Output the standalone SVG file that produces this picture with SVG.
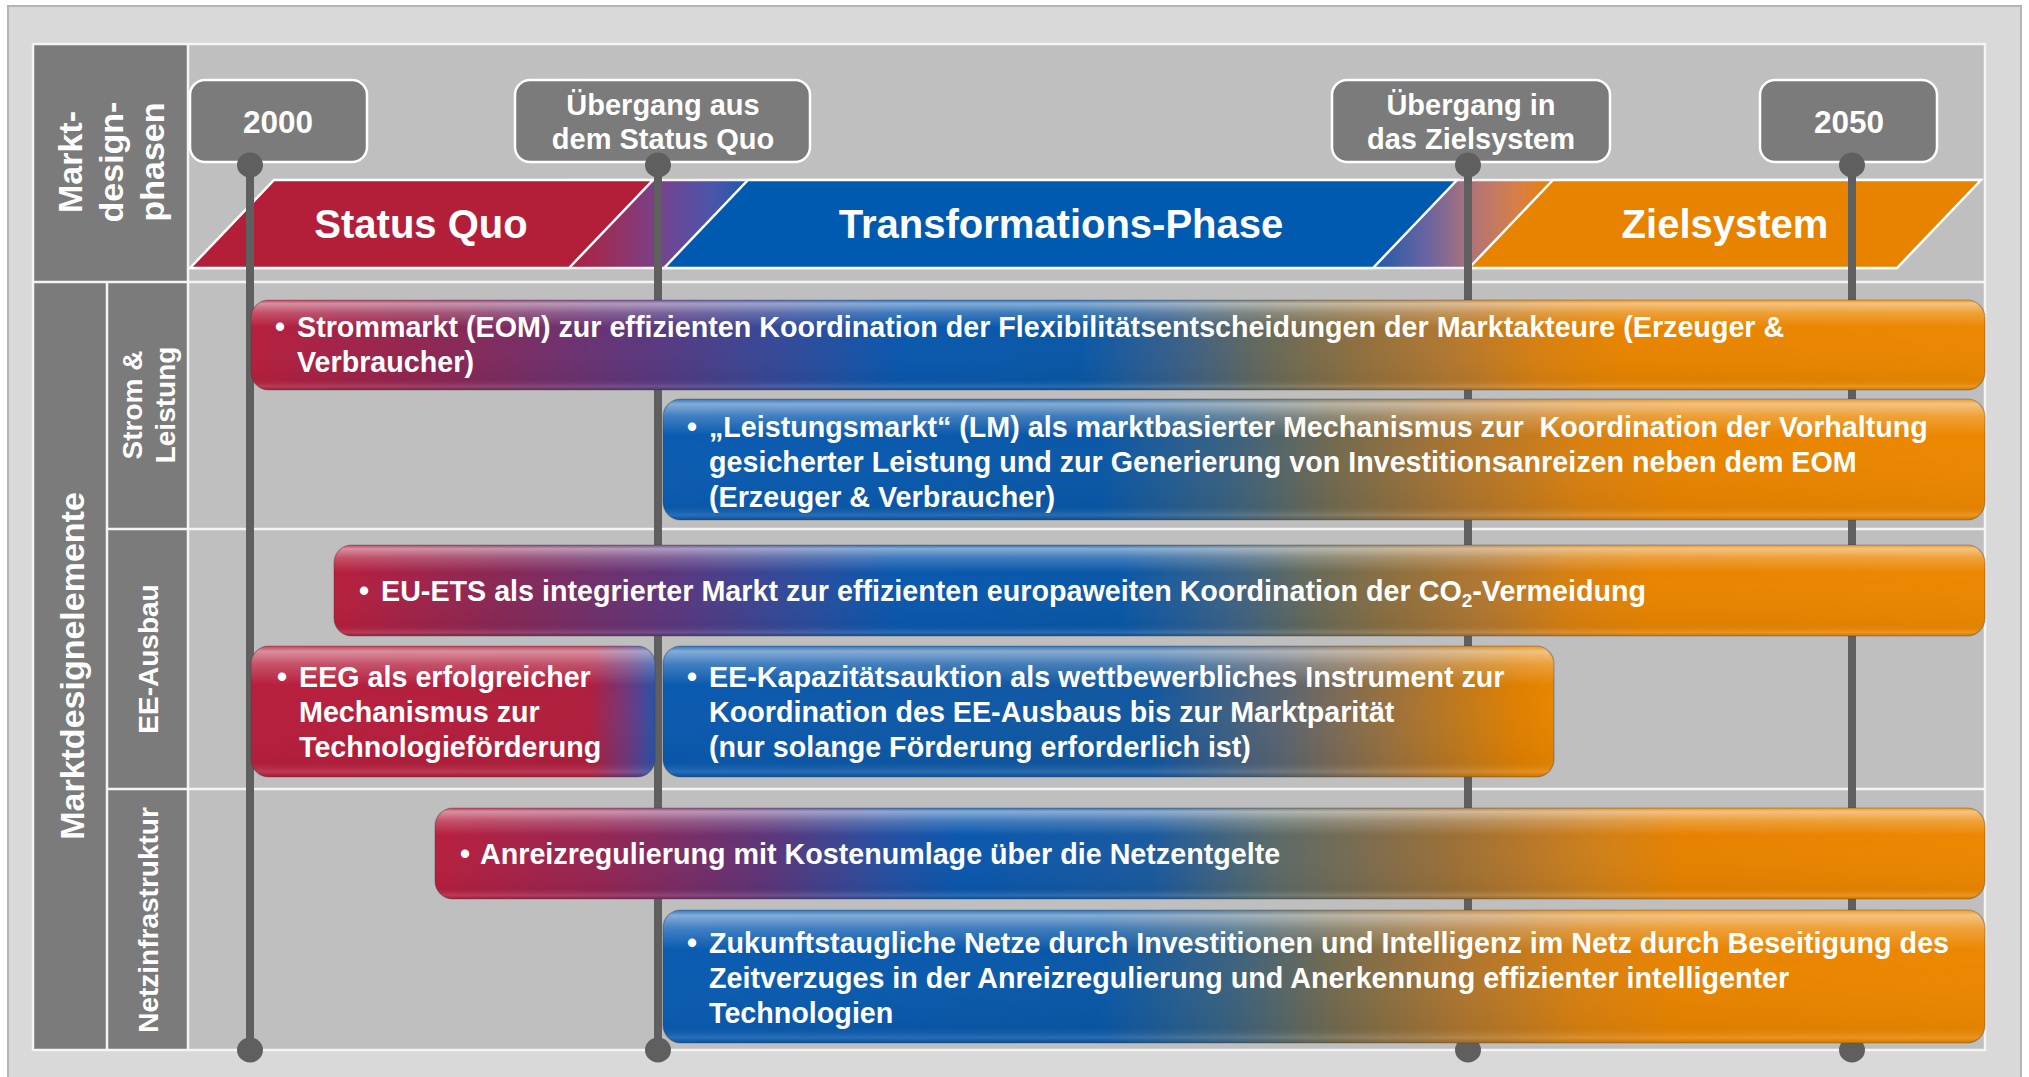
<svg xmlns="http://www.w3.org/2000/svg" width="2029" height="1077" viewBox="0 0 2029 1077">
<style>
.grid{stroke:#f4f4f4;stroke-width:2.5;fill:none}
.hdr{fill:#7a7b7a}
.lbl{font-family:'Liberation Sans',Arial,sans-serif;font-weight:bold;fill:#fff}
.ph{font-size:40px;text-anchor:middle}
.ms{font-size:29px;text-anchor:middle}
.yr{font-size:31.5px;text-anchor:middle}
.rot34{font-size:34px;text-anchor:middle}
.rot28{font-size:28px;text-anchor:middle}
.bt{font-size:28.7px}
.bul{font-size:28.7px;text-anchor:middle}
.box{fill:#7a7b7a;stroke:#fff;stroke-width:2.5}
.phase{stroke:#fff;stroke-width:2.5}
.pin{stroke:#5e5f5e;stroke-width:8;fill:none}
.dot{fill:#5e5f5e}
.gl{fill:url(#gloss)}
.edge{fill:none;stroke:rgba(60,60,60,0.35);stroke-width:1.2}
</style>
<defs>
<linearGradient id="gloss" x1="0" y1="0" x2="0" y2="1">
<stop offset="0" stop-color="#fff" stop-opacity="0.15"/>
<stop offset="0.04" stop-color="#fff" stop-opacity="0.5"/>
<stop offset="0.14" stop-color="#fff" stop-opacity="0.22"/>
<stop offset="0.3" stop-color="#fff" stop-opacity="0"/>
<stop offset="0.88" stop-color="#000" stop-opacity="0.04"/>
<stop offset="0.96" stop-color="#fff" stop-opacity="0.12"/>
<stop offset="1" stop-color="#000" stop-opacity="0.1"/>
</linearGradient>
<linearGradient id="pc1" gradientUnits="userSpaceOnUse" x1="569" y1="0" x2="748" y2="0">
<stop offset="0" stop-color="#b01f3c"/>
<stop offset="0.3" stop-color="#903468"/>
<stop offset="0.55" stop-color="#704594"/>
<stop offset="0.8" stop-color="#4a55aa"/>
<stop offset="1" stop-color="#1a5ab0"/>
</linearGradient>
<linearGradient id="pc2" gradientUnits="userSpaceOnUse" x1="1373" y1="0" x2="1553" y2="0">
<stop offset="0" stop-color="#1c5aac"/>
<stop offset="0.3" stop-color="#6a64a0"/>
<stop offset="0.55" stop-color="#b07478"/>
<stop offset="0.8" stop-color="#d87e48"/>
<stop offset="1" stop-color="#e88200"/>
</linearGradient>
<linearGradient id="g1" gradientUnits="userSpaceOnUse" x1="0" y1="0" x2="2000" y2="0">
<stop offset="0.125" stop-color="#b81f3d"/>
<stop offset="0.225" stop-color="#8a2856"/>
<stop offset="0.325" stop-color="#5a3880"/>
<stop offset="0.4" stop-color="#2e4c9c"/>
<stop offset="0.45" stop-color="#0a58ae"/>
<stop offset="0.54" stop-color="#0a58a8"/>
<stop offset="0.59" stop-color="#3a6088"/>
<stop offset="0.635" stop-color="#686a58"/>
<stop offset="0.68" stop-color="#90703e"/>
<stop offset="0.725" stop-color="#b27830"/>
<stop offset="0.77" stop-color="#d88010"/>
<stop offset="0.81" stop-color="#e88400"/>
<stop offset="1" stop-color="#ec8800"/>
</linearGradient>
<linearGradient id="g3" gradientUnits="userSpaceOnUse" x1="0" y1="0" x2="2000" y2="0">
<stop offset="0.167" stop-color="#b81f3d"/>
<stop offset="0.25" stop-color="#8a2856"/>
<stop offset="0.34" stop-color="#5a3880"/>
<stop offset="0.4" stop-color="#2e4c9c"/>
<stop offset="0.45" stop-color="#0a58ae"/>
<stop offset="0.56" stop-color="#0a58a8"/>
<stop offset="0.615" stop-color="#3a6288"/>
<stop offset="0.657" stop-color="#686a58"/>
<stop offset="0.7" stop-color="#90703e"/>
<stop offset="0.7435" stop-color="#b27830"/>
<stop offset="0.785" stop-color="#d88010"/>
<stop offset="0.825" stop-color="#e88400"/>
<stop offset="1" stop-color="#ec8800"/>
</linearGradient>
<linearGradient id="g6" gradientUnits="userSpaceOnUse" x1="0" y1="0" x2="2000" y2="0">
<stop offset="0.2175" stop-color="#b81f3d"/>
<stop offset="0.3" stop-color="#962654"/>
<stop offset="0.38" stop-color="#603478"/>
<stop offset="0.44" stop-color="#2a4ea0"/>
<stop offset="0.48" stop-color="#0a58ae"/>
<stop offset="0.575" stop-color="#1a5aa0"/>
<stop offset="0.635" stop-color="#5a6a6a"/>
<stop offset="0.68" stop-color="#7a6c50"/>
<stop offset="0.725" stop-color="#9a7038"/>
<stop offset="0.765" stop-color="#b87828"/>
<stop offset="0.8" stop-color="#d08018"/>
<stop offset="0.84" stop-color="#e68200"/>
<stop offset="1" stop-color="#ec8800"/>
</linearGradient>
<linearGradient id="g2" gradientUnits="userSpaceOnUse" x1="0" y1="0" x2="2000" y2="0">
<stop offset="0.3315" stop-color="#0a5cb2"/>
<stop offset="0.55" stop-color="#0a58a8"/>
<stop offset="0.615" stop-color="#3a6280"/>
<stop offset="0.665" stop-color="#706a50"/>
<stop offset="0.725" stop-color="#a87432"/>
<stop offset="0.79" stop-color="#d88010"/>
<stop offset="0.84" stop-color="#e88400"/>
<stop offset="1" stop-color="#ec8800"/>
</linearGradient>
<linearGradient id="g5" gradientUnits="userSpaceOnUse" x1="0" y1="0" x2="2000" y2="0">
<stop offset="0.3315" stop-color="#0a5ab0"/>
<stop offset="0.575" stop-color="#1258a0"/>
<stop offset="0.64" stop-color="#5a6470"/>
<stop offset="0.7" stop-color="#a07238"/>
<stop offset="0.76" stop-color="#e08000"/>
<stop offset="0.777" stop-color="#e88600"/>
</linearGradient>
<linearGradient id="g4" gradientUnits="userSpaceOnUse" x1="0" y1="0" x2="2000" y2="0">
<stop offset="0.1255" stop-color="#b81f3d"/>
<stop offset="0.295" stop-color="#b01f3e"/>
<stop offset="0.315" stop-color="#6a3a80"/>
<stop offset="0.3275" stop-color="#2a52a8"/>
</linearGradient>
</defs>

<g id="background">
<rect x="8" y="6" width="2013" height="1080" fill="#d9d9d9" stroke="#b5b5b5" stroke-width="2"/>
<rect x="33" y="44" width="1952" height="1006" fill="#bfbfbf"/>
<rect class="hdr" x="33" y="44" width="155" height="238"/>
<rect class="hdr" x="33" y="282" width="74" height="768"/>
<rect class="hdr" x="107" y="282" width="81" height="768"/>
<rect class="grid" x="33" y="44" width="1952" height="1006"/>
<line class="grid" x1="188" y1="44" x2="188" y2="1050"/>
<line class="grid" x1="33" y1="282" x2="1985" y2="282"/>
<line class="grid" x1="107" y1="282" x2="107" y2="1050"/>
<line class="grid" x1="107" y1="529" x2="1985" y2="529"/>
<line class="grid" x1="107" y1="789" x2="1985" y2="789"/>
</g>

<g id="row-labels">
<g id="label-phasen">
<text class="lbl rot34" transform="translate(82,162) rotate(-90)">Markt-</text>
<text class="lbl rot34" transform="translate(123,162) rotate(-90)">design-</text>
<text class="lbl rot34" transform="translate(164,162) rotate(-90)">phasen</text>
</g>
<text id="label-elemente" class="lbl rot34" transform="translate(84,666) rotate(-90)">Marktdesignelemente</text>
<g id="label-strom">
<text class="lbl rot28" transform="translate(142,405) rotate(-90)">Strom &amp;</text>
<text class="lbl rot28" transform="translate(175,405) rotate(-90)">Leistung</text>
</g>
<text id="label-ee" class="lbl rot28" transform="translate(158,659) rotate(-90)">EE-Ausbau</text>
<text id="label-netz" class="lbl rot28" transform="translate(158,920) rotate(-90)">Netzinfrastruktur</text>
</g>

<g id="phases">
<polygon fill="url(#pc1)" points="569,268 653,180 748,180 664,268"/>
<polygon fill="url(#pc2)" points="1373,268 1457,180 1553,180 1469,268"/>
<line class="grid" x1="569" y1="180" x2="1981" y2="180"/>
<line class="grid" x1="190" y1="268" x2="1897" y2="268"/>
<g id="phase-status-quo">
<polygon class="phase" fill="#b31f39" points="190,268 274,180 653,180 569,268"/>
<text class="lbl ph" x="421" y="238">Status Quo</text>
</g>
<g id="phase-transformation">
<polygon class="phase" fill="#005bb0" points="664,268 748,180 1457,180 1373,268"/>
<text class="lbl ph" x="1061" y="238">Transformations-Phase</text>
</g>
<g id="phase-ziel">
<polygon class="phase" fill="#e88300" points="1469,268 1553,180 1981,180 1897,268"/>
<text class="lbl ph" x="1725" y="238">Zielsystem</text>
</g>
</g>

<g id="milestones">
<g id="ms-2000">
<rect class="box" x="190" y="80" width="177" height="82" rx="15"/>
<text class="lbl yr" x="278" y="133">2000</text>
</g>
<g id="ms-uebergang-aus">
<rect class="box" x="515" y="80" width="295" height="82" rx="15"/>
<text class="lbl ms" x="663" y="115">Übergang aus</text>
<text class="lbl ms" x="663" y="149">dem Status Quo</text>
</g>
<g id="ms-uebergang-in">
<rect class="box" x="1332" y="80" width="278" height="82" rx="15"/>
<text class="lbl ms" x="1471" y="115">Übergang in</text>
<text class="lbl ms" x="1471" y="149">das Zielsystem</text>
</g>
<g id="ms-2050">
<rect class="box" x="1760" y="80" width="177" height="82" rx="15"/>
<text class="lbl yr" x="1849" y="133">2050</text>
</g>
</g>

<g id="connectors">
<line class="pin" x1="250" y1="165" x2="250" y2="1050"/>
<line class="pin" x1="658" y1="165" x2="658" y2="1050"/>
<line class="pin" x1="1468" y1="165" x2="1468" y2="1050"/>
<line class="pin" x1="1852" y1="165" x2="1852" y2="1050"/>
<ellipse class="dot" cx="250" cy="165" rx="13" ry="12.5"/>
<ellipse class="dot" cx="658" cy="165" rx="13" ry="12.5"/>
<ellipse class="dot" cx="1468" cy="165" rx="13" ry="12.5"/>
<ellipse class="dot" cx="1852" cy="165" rx="13" ry="12.5"/>
<ellipse class="dot" cx="250" cy="1050" rx="13" ry="12.5"/>
<ellipse class="dot" cx="658" cy="1050" rx="13" ry="12.5"/>
<ellipse class="dot" cx="1468" cy="1050" rx="13" ry="12.5"/>
<ellipse class="dot" cx="1852" cy="1050" rx="13" ry="12.5"/>
</g>

<g id="bars">
<g id="bar-strommarkt">
<rect x="251" y="300" width="1734" height="90" rx="18" fill="url(#g1)"/>
<rect class="gl" x="251" y="300" width="1734" height="90" rx="18"/>
<rect class="edge" x="251" y="300" width="1734" height="90" rx="18"/>
<text class="lbl bul" x="280" y="337">•</text>
<text class="lbl bt" x="297" y="337">Strommarkt (EOM) zur effizienten Koordination der Flexibilitätsentscheidungen der Marktakteure (Erzeuger &amp;</text>
<text class="lbl bt" x="297" y="372">Verbraucher)</text>
</g>
<g id="bar-leistungsmarkt">
<rect x="663" y="399" width="1322" height="121" rx="18" fill="url(#g2)"/>
<rect class="gl" x="663" y="399" width="1322" height="121" rx="18"/>
<rect class="edge" x="663" y="399" width="1322" height="121" rx="18"/>
<text class="lbl bul" x="692" y="437">•</text>
<text class="lbl bt" x="709" y="437">„Leistungsmarkt“ (LM) als marktbasierter Mechanismus zur&#160; Koordination der Vorhaltung</text>
<text class="lbl bt" x="709" y="472">gesicherter Leistung und zur Generierung von Investitionsanreizen neben dem EOM</text>
<text class="lbl bt" x="709" y="507">(Erzeuger &amp; Verbraucher)</text>
</g>
<g id="bar-eu-ets">
<rect x="334" y="545" width="1651" height="91" rx="18" fill="url(#g3)"/>
<rect class="gl" x="334" y="545" width="1651" height="91" rx="18"/>
<rect class="edge" x="334" y="545" width="1651" height="91" rx="18"/>
<text class="lbl bul" x="364" y="601">•</text>
<text class="lbl bt" x="381" y="601">EU-ETS als integrierter Markt zur effizienten europaweiten Koordination der CO<tspan font-size="19" dy="6">2</tspan><tspan dy="-6">-Vermeidung</tspan></text>
</g>
<g id="bar-eeg">
<rect x="251" y="646" width="404" height="131" rx="18" fill="url(#g4)"/>
<rect class="gl" x="251" y="646" width="404" height="131" rx="18"/>
<rect class="edge" x="251" y="646" width="404" height="131" rx="18"/>
<text class="lbl bul" x="282" y="687">•</text>
<text class="lbl bt" x="299" y="687">EEG als erfolgreicher</text>
<text class="lbl bt" x="299" y="722">Mechanismus zur</text>
<text class="lbl bt" x="299" y="757">Technologieförderung</text>
</g>
<g id="bar-ee-auktion">
<rect x="663" y="646" width="891" height="131" rx="18" fill="url(#g5)"/>
<rect class="gl" x="663" y="646" width="891" height="131" rx="18"/>
<rect class="edge" x="663" y="646" width="891" height="131" rx="18"/>
<text class="lbl bul" x="692" y="687">•</text>
<text class="lbl bt" x="709" y="687">EE-Kapazitätsauktion als wettbewerbliches Instrument zur</text>
<text class="lbl bt" x="709" y="722">Koordination des EE-Ausbaus bis zur Marktparität</text>
<text class="lbl bt" x="709" y="757">(nur solange Förderung erforderlich ist)</text>
</g>
<g id="bar-anreiz">
<rect x="435" y="808" width="1550" height="91" rx="18" fill="url(#g6)"/>
<rect class="gl" x="435" y="808" width="1550" height="91" rx="18"/>
<rect class="edge" x="435" y="808" width="1550" height="91" rx="18"/>
<text class="lbl bul" x="465" y="864">•</text>
<text class="lbl bt" x="480" y="864">Anreizregulierung mit Kostenumlage über die Netzentgelte</text>
</g>
<g id="bar-netze">
<rect x="663" y="910" width="1322" height="133" rx="18" fill="url(#g2)"/>
<rect class="gl" x="663" y="910" width="1322" height="133" rx="18"/>
<rect class="edge" x="663" y="910" width="1322" height="133" rx="18"/>
<text class="lbl bul" x="692" y="953">•</text>
<text class="lbl bt" x="709" y="953">Zukunftstaugliche Netze durch Investitionen und Intelligenz im Netz durch Beseitigung des</text>
<text class="lbl bt" x="709" y="988">Zeitverzuges in der Anreizregulierung und Anerkennung effizienter intelligenter</text>
<text class="lbl bt" x="709" y="1023">Technologien</text>
</g>
</g>
</svg>
